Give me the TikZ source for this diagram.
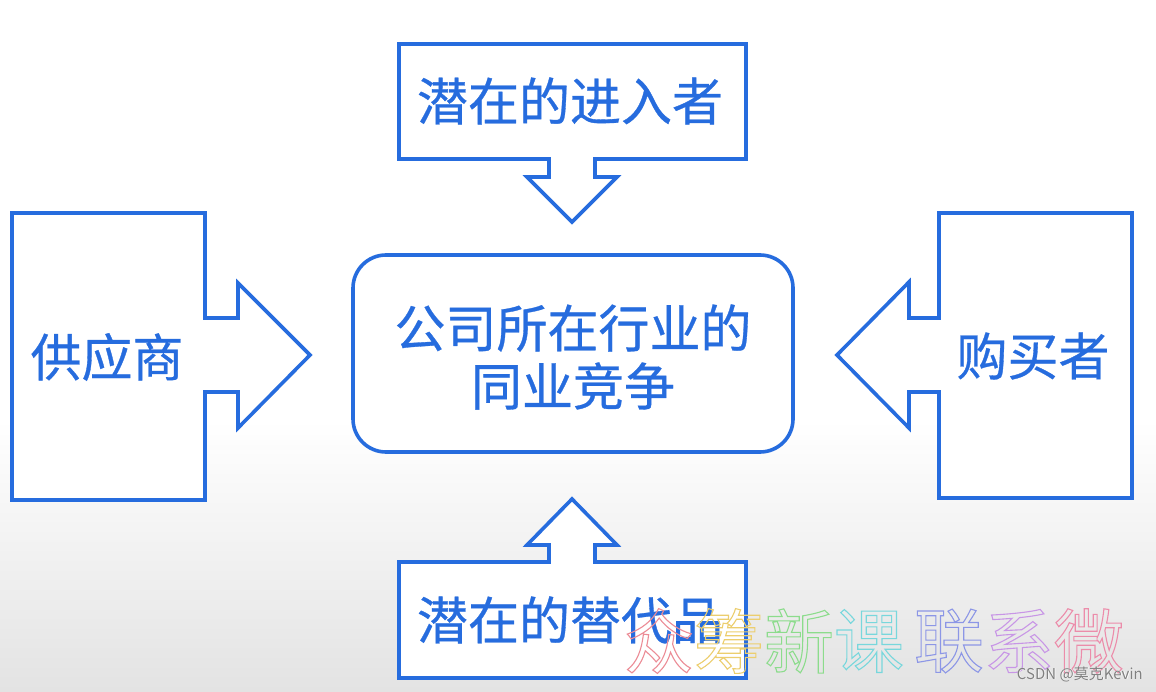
\documentclass[tikz,border=0pt]{standalone}
\usepackage{fontspec}
\newfontfamily\cjk{Noto Sans CJK SC}
\newfontfamily\cjklbl[FakeBold=0.6]{Noto Sans CJK SC}
\definecolor{cblue}{RGB}{38,108,222}
\definecolor{wmA}{RGB}{236,140,150}
\definecolor{wmB}{RGB}{236,206,110}
\definecolor{wmC}{RGB}{140,220,140}
\definecolor{wmD}{RGB}{120,215,220}
\definecolor{wmE}{RGB}{140,150,230}
\definecolor{wmF}{RGB}{200,150,230}
\definecolor{wmG}{RGB}{236,140,170}
\newcommand{\hollow}[1]{\special{pdf:literal direct 1 Tr 1.1 w}#1\special{pdf:literal direct 0 Tr}}
\tikzset{
  shp/.style={draw=cblue, line width=3.6pt, line join=miter, fill=white},
  lbl/.style={text=cblue, font=\cjklbl\fontsize{51}{60}\selectfont, inner sep=0pt, align=center},
  wm/.style={font=\cjk\fontsize{70}{70}\selectfont, inner sep=0pt, anchor=center},
}
\begin{document}
\begin{tikzpicture}[x=1pt,y=-1pt]
\useasboundingbox (0,0) rectangle (1156,692);
\fill[white] (0,0) rectangle (1156,692);
\shade[top color=white, bottom color=black!11] (0,420) rectangle (1156,692);
% top: potential entrants
\draw[shp] (399,44) -- (746,44) -- (746,159) -- (595,159) -- (595,177) -- (617,177) -- (572,222)
  -- (527,177) -- (549,177) -- (549,159) -- (399,159) -- cycle;
\node[lbl] (entrant) at (570,101) {潜在的进入者};
% bottom: substitutes
\draw[shp] (399,678) -- (746,678) -- (746,562) -- (595,562) -- (595,545) -- (617,545) -- (572,499)
  -- (527,545) -- (549,545) -- (549,562) -- (399,562) -- cycle;
\node[lbl] (subst) at (570,620) {潜在的替代品};
% left: suppliers
\draw[shp] (12,213) -- (12,500) -- (205,500) -- (205,392) -- (238,392) -- (238,428) -- (310,355)
  -- (238,283) -- (238,318) -- (205,318) -- (205,213) -- cycle;
\node[lbl] (supplier) at (107,357) {供应商};
% right: buyers
\draw[shp] (1132,213) -- (1132,498) -- (939,498) -- (939,392) -- (909,392) -- (909,428) -- (837,355)
  -- (909,282) -- (909,318) -- (939,318) -- (939,213) -- cycle;
\node[lbl] (buyer) at (1033,356) {购买者};
% centre
\draw[shp, rounded corners=33pt] (353,255) rectangle (793,452);
\node[lbl] (centre) at (573,357) {公司所在行业的\\[-2pt]同业竞争};
% watermark
\node[wm, text=wmA] (w1) at (659,641) {\hollow{众}};
\node[wm, text=wmB] (w2) at (729,641) {\hollow{筹}};
\node[wm, text=wmC] (w3) at (799,641) {\hollow{新}};
\node[wm, text=wmD] (w4) at (869,641) {\hollow{课}};
\node[wm, text=wmE] (w5) at (949,641) {\hollow{联}};
\node[wm, text=wmF] (w6) at (1019,641) {\hollow{系}};
\node[wm, text=wmG] (w7) at (1089,641) {\hollow{微}};
\node[font=\cjk\fontsize{15}{15}\selectfont, text=white, inner sep=0pt, anchor=east] at (1143.8,674.8) {CSDN @莫克Kevin};
\node[font=\cjk\fontsize{15}{15}\selectfont, text=black!50, inner sep=0pt, anchor=east] (csdn) at (1143,674) {CSDN @莫克Kevin};
\end{tikzpicture}
\end{document}
